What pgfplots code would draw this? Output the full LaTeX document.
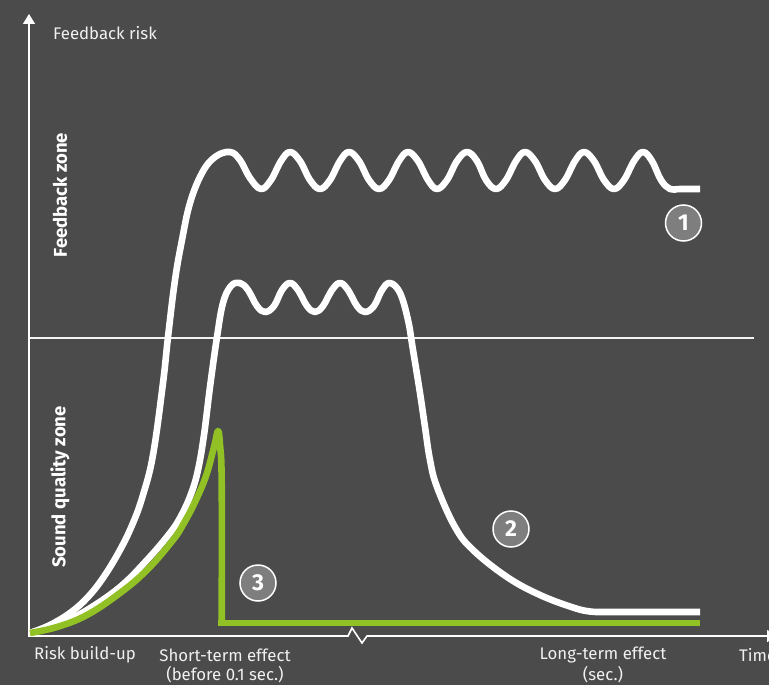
\documentclass[border=0pt]{standalone}
\usepackage{fontspec}
\setmainfont{Fira Sans}
\usepackage{pgfplots}
\pgfplotsset{compat=1.18}
\usetikzlibrary{arrows.meta}
\definecolor{bg}{HTML}{4B4B4B}
\definecolor{curvegreen}{HTML}{92C125}
\definecolor{badge}{HTML}{7E7E7E}
\definecolor{txt}{HTML}{F0F0F0}
\tikzset{
    curve/.style={white, line width=6.6pt, line cap=butt, line join=round, smooth, tension=0.65},
    txtnode/.style={text=txt, font=\fontsize{16.8}{18}\selectfont, inner sep=0pt},
    zone/.style={text=white, font=\fontsize{18.5}{18}\selectfont\bfseries, inner sep=0pt, rotate=90},
    num/.style={circle, draw=white, line width=1.5pt, fill=badge, minimum size=36pt, inner sep=0pt,
        text=white, font=\fontsize{23}{23}\selectfont\bfseries},
}
\begin{document}
\begin{tikzpicture}[x=1pt,y=1pt]
\useasboundingbox (0,0) rectangle (769,685);
\fill[bg] (0,0) rectangle (769,685);
% y runs downwards, so all values are the picture's pixel positions
\begin{axis}[
    at={(0,0)}, anchor=south west,
    scale only axis, width=769pt, height=685pt,
    xmin=0, xmax=769, ymin=0, ymax=685, y dir=reverse,
    hide axis, clip=false,
    every axis plot/.append style={no markers},
]
% zone divider and axes
\addplot[white!93!bg, line width=1.5pt] coordinates {(29,338) (754,338)};
\addplot[white, line width=1.6pt, -{Triangle[length=10pt,width=12pt]}] coordinates {(29,636) (29,14)};
\addplot[white, line width=1.6pt, -{Triangle[length=10pt,width=12pt]}] coordinates {
    (28,636) (348,636) (352,628) (362,643) (367,636) (777,636)};
% curve 1
\addplot[curve] coordinates {
    (30,633) (50,625) (70,613) (87,598) (103,578) (120,550) (133,523) (143,495) (153,455)
    (163,383) (168,337) (175,280) (182,240) (190,203) (202,173) (215,157) (230,152)
    (240,160) (250,178) (261,189)
    (271,180) (281,161) (290,152) (300,161) (310,180) (320,189)
    (330,180) (340,161) (349,152) (359,161) (369,180) (379,189)
    (389,180) (399,161) (408,152) (418,161) (428,180) (437,189)
    (447,180) (457,161) (467,152) (477,161) (486,180) (496,189)
    (506,180) (516,161) (525,152) (535,161) (545,180) (555,189)
    (565,180) (575,161) (584,152) (594,161) (604,180) (614,189)
    (624,180) (634,161) (643,152) (652,161) (661,180) (670,189) (680,189) (700,189)};
% curve 2
\addplot[curve] coordinates {
    (30,633) (63,622) (87,610) (120,587) (147,560) (170,533) (181,516) (191,494) (198,470) (204,435)
    (210,387) (217,337) (223,303) (231,286) (240,283)
    (248,290) (257,306) (265,312)
    (274,306) (282,290) (290,283) (298,290) (307,306) (315,312)
    (323,306) (332,290) (340,283) (348,290) (357,306) (365,312)
    (374,306) (382,290) (390,283) (400,293) (408,320) (413,350) (420,393) (425,427) (430,460)
    (437,487) (455,527) (473,550) (507,577) (540,595) (573,607.5) (590,611.5) (605,612) (620,612) (700,612)};
% curve 3
\addplot[curve, curvegreen] coordinates {
    (30,633) (57,627) (87,615) (120,593) (147,570) (173,540) (184,523) (195,502) (206,476) (214,447) (218,431)
    (220,445) (221.7,483) (221.7,623)};
\addplot[curvegreen, line width=6.6pt] coordinates {(218.4,623) (700,623)};
% texts
\node[txtnode, anchor=west] at (axis cs:53,33) {Feedback risk};
\node[zone] at (axis cs:60,195) {Feedback zone};
\node[zone] at (axis cs:60,487) {Sound quality zone};
\node[txtnode] at (axis cs:85,655) {Risk build-up};
\node[txtnode] at (axis cs:225,655) {Short-term effect};
\node[txtnode] at (axis cs:225,675) {(before 0.1 sec.)};
\node[txtnode] at (axis cs:603,655) {Long-term effect};
\node[txtnode] at (axis cs:603,675) {(sec.)};
\node[txtnode, anchor=west] at (axis cs:739,655) {Time};
\node[num] at (axis cs:683.5,223) {1};
\node[num] at (axis cs:511,529) {2};
\node[num] at (axis cs:258,583) {3};
\end{axis}
\end{tikzpicture}
\end{document}
